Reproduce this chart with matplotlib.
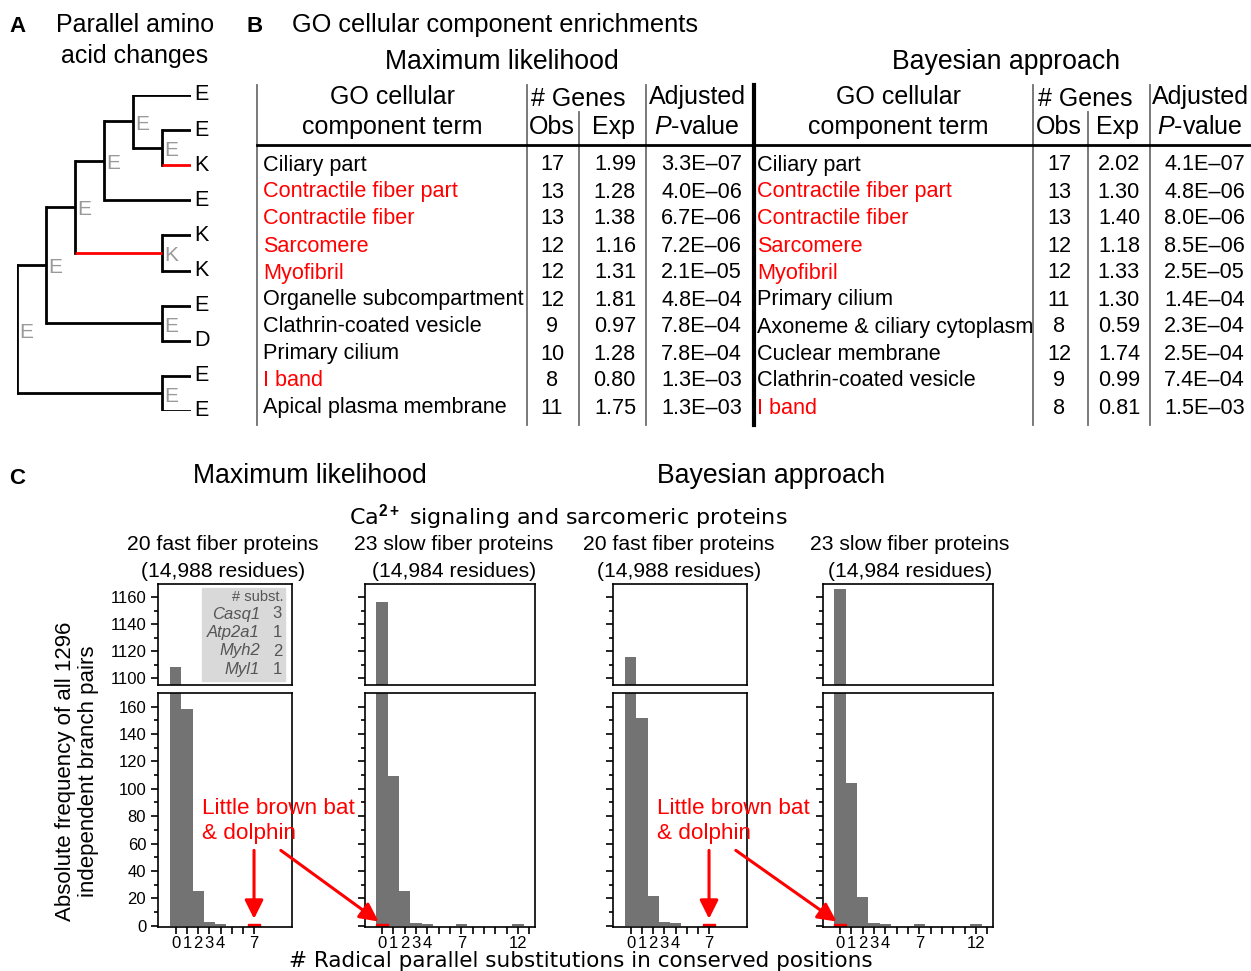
import matplotlib.pyplot as plt
import numpy as np

plt.rcParams['font.family'] = ['Liberation Sans', 'DejaVu Sans']
plt.rcParams['mathtext.fontset'] = 'custom'
plt.rcParams['mathtext.rm'] = 'Liberation Sans'
plt.rcParams['mathtext.it'] = 'Liberation Sans:italic'
plt.rcParams['mathtext.bf'] = 'Liberation Sans:bold'

W, H = 1251, 971

# ---------------- data ----------------
# panel A: (ancestral state, children); tips are plain strings
tree = ('E', [('E', [('E', [('E', [('E', ['E', ('E', ['E', 'K'])]), 'E']),
                            ('K', ['K', 'K'])]),
                     ('E', ['E', 'D'])]),
              ('E', ['E', 'E'])])
parallel_state = 'K'

# panel B tables
ml_terms = ['Ciliary part', 'Contractile fiber part', 'Contractile fiber', 'Sarcomere',
            'Myofibril', 'Organelle subcompartment', 'Clathrin-coated vesicle',
            'Primary cilium', 'I band', 'Apical plasma membrane']
ml_obs = [17, 13, 13, 12, 12, 12, 9, 10, 8, 11]
ml_exp = ['1.99', '1.28', '1.38', '1.16', '1.31', '1.81', '0.97', '1.28', '0.80', '1.75']
ml_pval = ['3.3E–07', '4.0E–06', '6.7E–06', '7.2E–06', '2.1E–05', '4.8E–04',
           '7.8E–04', '7.8E–04', '1.3E–03', '1.3E–03']

bay_terms = ['Ciliary part', 'Contractile fiber part', 'Contractile fiber', 'Sarcomere',
             'Myofibril', 'Primary cilium', 'Axoneme & ciliary cytoplasm',
             'Cuclear membrane', 'Clathrin-coated vesicle', 'I band']
bay_obs = [17, 13, 13, 12, 12, 11, 8, 12, 9, 8]
bay_exp = ['2.02', '1.30', '1.40', '1.18', '1.33', '1.30', '0.59', '1.74', '0.99', '0.81']
bay_pval = ['4.1E–07', '4.8E–06', '8.0E–06', '8.5E–06', '2.5E–05', '1.4E–04',
            '2.3E–04', '2.5E–04', '7.4E–04', '1.5E–03']

muscle_terms = ['Contractile fiber part', 'Contractile fiber', 'Sarcomere', 'Myofibril', 'I band']

# panel C: counts of branch pairs by number of radical parallel substitutions
fast_ml = [1108, 158, 25, 3, 1, 0, 0, 1]
slow_ml = [1157, 109, 25, 2, 1, 0, 0, 1, 0, 0, 0, 0, 1]
fast_bayes = [1116, 152, 22, 3, 2, 0, 0, 1]
slow_bayes = [1166, 104, 21, 2, 1, 0, 0, 1, 0, 0, 0, 0, 1]
bat_dolphin = [7, 0, 7, 0]
labelled_ticks = [0, 1, 2, 3, 4, 7, 12]

panel_titles = ['20 fast fiber proteins\n(14,988 residues)', '23 slow fiber proteins\n(14,984 residues)',
                '20 fast fiber proteins\n(14,988 residues)', '23 slow fiber proteins\n(14,984 residues)']
legend_genes = ['Casq1', 'Atp2a1', 'Myh2', 'Myl1']
legend_counts = [3, 1, 2, 1]

bar_gray = '#737373'

fig = plt.figure(figsize=(W / 100, H / 100), dpi=100)


def px_axes(l, t, r, b):
    return fig.add_axes([l / W, 1 - b / H, (r - l) / W, (b - t) / H])


# ---------------- panel A: tree ----------------
tax = px_axes(17, 95, 191, 411)
tax.set_xlim(0, 6)
tax.set_ylim(9, 0)
tax.axis('off')

tip_counter = [0]


def layout(node):
    if isinstance(node, str):
        y = tip_counter[0]
        tip_counter[0] += 1
        return {'x': 6, 'y': y, 'state': node, 'kids': []}
    state, children = node
    kids = [layout(c) for c in children]
    x = min(k['x'] for k in kids) - 1
    y = np.mean([k['y'] for k in kids])
    return {'x': x, 'y': y, 'state': state, 'kids': kids}


def draw(n):
    if not n['kids']:
        tax.text(n['x'] + 0.1, n['y'], n['state'], fontsize=15.5, va='center', ha='left')
        return
    ys = [k['y'] for k in n['kids']]
    tax.plot([n['x'], n['x']], [min(ys), max(ys)], color='black', lw=2,
             solid_capstyle='projecting')
    for k in n['kids']:
        col = 'red' if (k['state'] == parallel_state and n['state'] != parallel_state) else 'black'
        tax.plot([n['x'], k['x']], [k['y'], k['y']], color=col, lw=2, solid_capstyle='butt',
                 zorder=3 if col == 'red' else 2)
        draw(k)
    tax.text(n['x'] + 0.08, n['y'] + 0.08, n['state'], fontsize=15, color='#999999',
             va='center', ha='left')


draw(layout(tree))

# ---------------- overlay for text / table ----------------
ov = fig.add_axes([0, 0, 1, 1])
ov.set_xlim(0, W)
ov.set_ylim(H, 0)
ov.axis('off')
ov.set_zorder(10)

ov.text(9, 26, 'A', fontsize=16, fontweight='bold', va='center')
ov.text(135, 25, 'Parallel amino', fontsize=18, ha='center', va='center')
ov.text(135, 56, 'acid changes', fontsize=18, ha='center', va='center')
ov.text(246, 26, 'B', fontsize=16, fontweight='bold', va='center')
ov.text(292, 25, 'GO cellular component enrichments', fontsize=18.3, va='center')
ov.text(9, 478, 'C', fontsize=16, fontweight='bold', va='center')

# tables
tables = [
    (ml_terms, ml_obs, ml_exp, ml_pval, 'Maximum likelihood',
     dict(title=502, term=263, obs=552, exp=636, p=742, head=392, genes=578, expc=614, adj=697)),
    (bay_terms, bay_obs, bay_exp, bay_pval, 'Bayesian approach',
     dict(title=1006, term=757, obs=1059, exp=1140, p=1245, head=898, genes=1085, expc=1118, adj=1200)),
]
for terms, obs, exp, pval, title, c in tables:
    ov.text(c['title'], 62, title, fontsize=19.2, ha='center', va='center')
    ov.text(c['head'], 97, 'GO cellular', fontsize=18, ha='center', va='center')
    ov.text(c['head'], 127, 'component term', fontsize=18, ha='center', va='center')
    ov.text(c['genes'], 99, '# Genes', fontsize=18, ha='center', va='center')
    ov.text(c['obs'], 127, 'Obs', fontsize=18, ha='center', va='center')
    ov.text(c['expc'], 127, 'Exp', fontsize=18, ha='center', va='center')
    ov.text(c['adj'], 97, 'Adjusted', fontsize=18, ha='center', va='center')
    ov.text(c['adj'], 127, r'$P$-value', fontsize=18, ha='center', va='center')
    for i, term in enumerate(terms):
        y = 165 + 27 * i
        col = 'red' if term in muscle_terms else 'black'
        ov.text(c['term'], y, term, fontsize=15.6, color=col, va='center')
        ov.text(c['obs'], y, str(obs[i]), fontsize=15.6, ha='center', va='center')
        ov.text(c['exp'], y, exp[i], fontsize=15.6, ha='right', va='center')
        ov.text(c['p'], y, pval[i], fontsize=15.6, ha='right', va='center')

thin = '#6e6e6e'
for x, top in [(257, 85), (527, 85), (579, 112), (646, 85), (1033, 85), (1088, 112), (1150, 85)]:
    ov.plot([x, x], [top, 425], color=thin, lw=1.3)
ov.plot([754, 754], [85, 425], color='black', lw=3)
ov.plot([257, W], [145, 145], color='black', lw=2)

# ---------------- panel C: histograms ----------------
ov.text(310, 476, 'Maximum likelihood', fontsize=19.2, ha='center', va='center')
ov.text(771, 476, 'Bayesian approach', fontsize=19.2, ha='center', va='center')
ov.text(568, 524, r'Ca$^{\mathbf{2+}}$ signaling and sarcomeric proteins', fontsize=16,
        ha='center', va='baseline', family='DejaVu Sans')

panel_counts = [fast_ml, slow_ml, fast_bayes, slow_bayes]
panel_x = [(158, 292), (365, 535), (613, 747), (823, 993)]
panel_centers = [223, 454, 679, 910]
lows = []
for i, counts in enumerate(panel_counts):
    l, r = panel_x[i]
    fast = len(counts) < 10
    xlim = (-1.6, 10.4) if fast else (-1.5, 13.5)
    nt = 8 if fast else 14
    up = px_axes(l, 584, r, 685)
    lo = px_axes(l, 693, r, 927)
    xs = np.arange(len(counts))
    for ax in (up, lo):
        ax.bar(xs, counts, width=1.0, color=bar_gray, linewidth=0)
        ax.bar([bat_dolphin[i]], [1], width=1.0, color='red', edgecolor='red', linewidth=1)
        ax.set_xlim(*xlim)
        for s in ax.spines.values():
            s.set_linewidth(1.2)
        ax.tick_params(axis='y', which='major', direction='out', length=5, width=1.2, labelsize=12)
        ax.tick_params(axis='y', which='minor', direction='out', length=3, width=1.2)
    up.set_ylim(1095, 1170)
    up.set_yticks(np.arange(1100, 1161, 20))
    up.set_yticks(np.arange(1100, 1161, 10), minor=True)
    up.set_xticks([])
    lo.set_ylim(-1, 170)
    lo.set_yticks(np.arange(0, 161, 20))
    lo.set_yticks(np.arange(0, 161, 10), minor=True)
    lo.set_xticks(np.arange(nt))
    lo.set_xticklabels([str(t) if t in labelled_ticks else '' for t in range(nt)])
    lo.tick_params(axis='x', direction='out', length=5, width=1.2, labelsize=12, pad=1.5)
    if i > 0:
        up.set_yticklabels([])
        lo.set_yticklabels([])
    lows.append(lo)
    ov.text(panel_centers[i], 558, panel_titles[i], fontsize=15.2, ha='center', va='center',
            linespacing=1.5)

# legend box in first panel
ov.add_patch(plt.Rectangle((202, 588), 83, 93, color='#d9d9d9', zorder=1))
ov.text(283, 597, '# subst.', fontsize=10.5, color='#555555', ha='right', va='center')
for j, (g, n) in enumerate(zip(legend_genes, legend_counts)):
    y = 614 + 18.5 * j
    ov.text(260, y, g, fontsize=12, style='italic', color='#555555', ha='right', va='center')
    ov.text(282, y, str(n), fontsize=12, color='#555555', ha='right', va='center')

# bat & dolphin annotations
arrow = dict(arrowstyle='-|>', color='red', lw=2.2, mutation_scale=28, shrinkA=0, shrinkB=0)
for a, b, tx in [(0, 1, 202), (2, 3, 657)]:
    ov.text(tx, 821, 'Little brown bat\n& dolphin', fontsize=16.2, color='red', va='center',
            linespacing=1.3)
    ov.annotate('', xy=(bat_dolphin[a], 5), xycoords=lows[a].transData,
                xytext=(bat_dolphin[a], 55), textcoords=lows[a].transData,
                arrowprops=arrow, annotation_clip=False)
    ov.annotate('', xy=(bat_dolphin[b] - 0.3, 3), xycoords=lows[b].transData,
                xytext=(9.4, 55), textcoords=lows[a].transData,
                arrowprops=arrow, annotation_clip=False)

fig.text(77 / W, 1 - 771 / H, 'Absolute frequency of all 1296\nindependent branch pairs',
         rotation=90, fontsize=16, ha='center', va='center', linespacing=1.15)
fig.text(581 / W, 1 - 967 / H, '# Radical parallel substitutions in conserved positions',
         fontsize=15.5, ha='center', va='baseline', family='DejaVu Sans')

fig.savefig('out.png', dpi=100)
